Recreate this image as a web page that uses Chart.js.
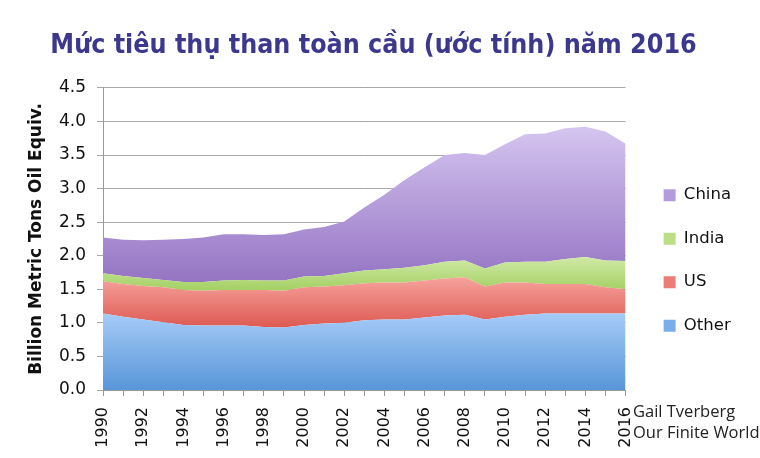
<!DOCTYPE html>
<html>
<head>
<meta charset="utf-8">
<script src="https://cdn.jsdelivr.net/npm/chart.js@4"></script>
<style>
  body{margin:0;background:#fff}
  #wrap{width:760px;height:458px}
</style>
</head>
<body>
<div id="wrap"><canvas id="myChart" width="760" height="458"></canvas></div>
<script>
// data (billion metric tons oil equivalent)
var years = [1990,1991,1992,1993,1994,1995,1996,1997,1998,1999,2000,2001,2002,2003,2004,2005,2006,2007,2008,2009,2010,2011,2012,2013,2014,2015,2016]
var other = [1.14,1.09,1.05,1.01,0.97,0.96,0.96,0.96,0.94,0.93,0.97,0.99,1.00,1.04,1.05,1.05,1.08,1.11,1.12,1.05,1.09,1.12,1.14,1.14,1.14,1.14,1.14]
var us    = [0.48,0.49,0.50,0.52,0.52,0.52,0.53,0.53,0.55,0.55,0.56,0.55,0.56,0.55,0.55,0.55,0.55,0.55,0.56,0.49,0.51,0.48,0.44,0.44,0.44,0.39,0.36]
var india = [0.12,0.12,0.12,0.11,0.12,0.13,0.14,0.15,0.14,0.15,0.16,0.16,0.18,0.19,0.20,0.22,0.23,0.25,0.25,0.27,0.30,0.31,0.33,0.37,0.40,0.40,0.42]
var china = [0.53,0.54,0.56,0.60,0.64,0.66,0.69,0.68,0.68,0.69,0.70,0.73,0.77,0.94,1.11,1.31,1.46,1.59,1.60,1.69,1.76,1.90,1.91,1.95,1.94,1.92,1.75]
var yTicks = [0,0.5,1,1.5,2,2.5,3,3.5,4,4.5]

var series = [other, us, india, china]
var names = ["Other","US","India","China"]
var lightCols = ["#a6cbf7","#f6a29c","#d0e9a6","#d5c5f0"]
var darkCols  = ["#5896d8","#dd5a52","#a3d063","#9574c3"]
var legendCols = ["#7aaee8","#ec7d76","#bcdf85","#b49cdc"]

// vertical gradient across each band, like the old spreadsheet look
function bandGradient(i){
    return function(c){
        var chart = c.chart
        var area = chart.chartArea
        if(!area) return darkCols[i]
        var y = chart.scales.y
        var lo = Infinity, hi = -Infinity
        for(var k=0;k<years.length;k++){
            var base = 0
            for(var j=0;j<i;j++) base += series[j][k]
            lo = Math.min(lo, base)
            hi = Math.max(hi, base + series[i][k])
        }
        var g = chart.ctx.createLinearGradient(0, y.getPixelForValue(hi), 0, y.getPixelForValue(lo))
        g.addColorStop(0, lightCols[i])
        g.addColorStop(1, darkCols[i])
        return g
    }
}

var datasets = []
series.forEach(function(d, i){
    datasets.push({
        label: names[i],
        data: d,
        fill: i == 0 ? 'origin' : '-1',
        backgroundColor: bandGradient(i),
        borderWidth: 0,
        pointRadius: 0,
        tension: 0
    })
})

var credit = {
    id: 'credit',
    afterDraw: function(chart){
        var ctx = chart.ctx
        ctx.save()
        ctx.font = '16.5px "Open Sans", sans-serif'
        ctx.fillStyle = '#222'
        ctx.textBaseline = 'middle'
        ctx.fillText('Gail Tverberg', 633, 412)
        ctx.fillText('Our Finite World', 633, 433)
        ctx.restore()
    }
}

var axisFont = '"DejaVu Sans", sans-serif'

var chart = new Chart(document.getElementById("myChart").getContext('2d'), {
    type: 'line',
    data: { labels: years, datasets: datasets },
    plugins: [credit],
    options: {
        responsive: false,
        animation: false,
        layout: { padding: { left: 6, right: 19, top: 0, bottom: 4 } },
        plugins: {
            title: {
                display: true,
                text: 'Mức tiêu thụ than toàn cầu (ước tính) năm 2016',
                color: '#3b388e',
                font: { family: '"DejaVu Sans Condensed", "DejaVu Sans", sans-serif', size: 26.6, weight: 'bold' },
                padding: { top: 30, bottom: 26 }
            },
            legend: {
                position: 'right',
                reverse: true,
                title: { display: true, text: '', padding: { top: 62, bottom: 0 }, font: { size: 4 } },
                labels: {
                    color: '#111',
                    font: { family: axisFont, size: 16.5 },
                    boxWidth: 12,
                    boxHeight: 12,
                    padding: 27,
                    generateLabels: function(chart){
                        return names.map(function(n, i){
                            return { text: n, fillStyle: legendCols[i], strokeStyle: legendCols[i], lineWidth: 0, datasetIndex: i, fontColor: '#111' }
                        })
                    }
                }
            },
            tooltip: { enabled: false }
        },
        scales: {
            x: {
                afterFit: function(s){ s.height = 64 },
                grid: { drawOnChartArea: false, color: '#999', tickLength: 6 },
                border: { color: '#999' },
                ticks: {
                    autoSkip: false,
                    minRotation: 90,
                    maxRotation: 90,
                    color: '#111',
                    padding: 11,
                    font: { family: axisFont, size: 16 },
                    callback: function(v, idx){ return years[idx] % 2 == 0 ? String(years[idx]) : '' }
                }
            },
            y: {
                stacked: true,
                min: yTicks[0],
                max: yTicks[yTicks.length-1],
                afterFit: function(s){ s.width = 97 },
                afterBuildTicks: function(s){ s.ticks = yTicks.map(function(v){ return {value: v} }) },
                grid: { color: '#a8a8a8', tickLength: 6 },
                border: { color: '#999' },
                ticks: {
                    color: '#111',
                    padding: 11,
                    font: { family: axisFont, size: 17 },
                    callback: function(v){ return v.toFixed(1) }
                },
                title: {
                    display: true,
                    text: 'Billion Metric Tons Oil Equiv.',
                    color: '#111',
                    font: { family: axisFont, size: 17, weight: 'bold' },
                    padding: { top: 20, bottom: 0 }
                }
            },
            // empty strip between the plot and the legend
            gap: {
                type: 'linear',
                position: 'right',
                afterFit: function(s){ s.width = 11 },
                grid: { display: false },
                ticks: { display: false },
                border: { display: false }
            }
        }
    }
})
</script>
</body>
</html>
